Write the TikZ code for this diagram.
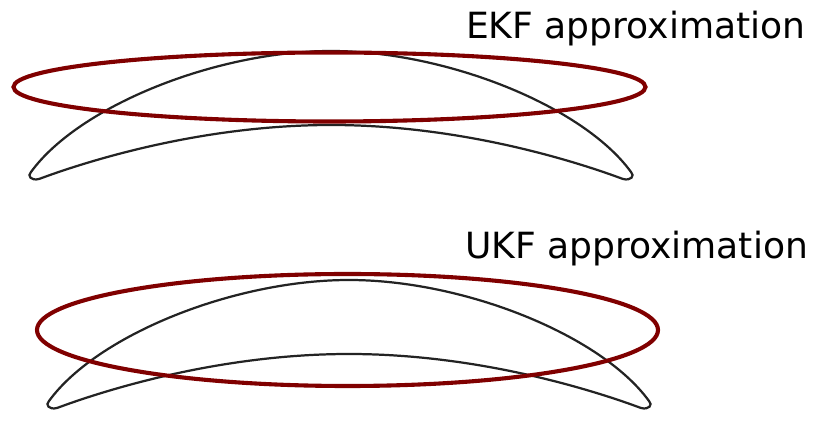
\documentclass[tikz,border=0pt]{standalone}
\usepackage{fontspec}
\setmainfont{DejaVu Sans}
\usepackage{tikz}
\usetikzlibrary{calc}
\definecolor{fitred}{RGB}{128,0,0}
\definecolor{curvegray}{RGB}{35,35,35}
\tikzset{
every picture/.style={line width=0.8pt, >=stealth},
%%%%%%%%%%  Line styles
banana/.style={line width=1.9pt, draw=curvegray},
approx/.style={line width=3.5pt, draw=fitred},
%%%%%%%%%%  Label style
caption/.style={inner sep=0pt, outer sep=0pt, anchor=base west,
                font=\fontsize{30.8}{36}\selectfont}
}

\begin{document}
\begin{tikzpicture}[x=0.3mm, y=-0.3mm]
\useasboundingbox (0,0) rectangle (813,422);
%%%%%%%%%%%%%%%%%%%%%%%%%%%%%%%%%%%%%%%%%%%%%%
%% EKF
\begin{scope}[shift={(331,178)}]
\node[caption] (ekf) at (135,-139) {EKF approximation};
%% true distribution
\draw[banana] (-300,-6)
	.. controls (-252,-72) and (-115,-127) .. (0,-127)
	.. controls (115,-127) and (252,-72) .. (300,-6)
	.. controls (304,-2) and (300,3) .. (292,1)
	.. controls (230,-22) and (120,-53) .. (0,-53)
	.. controls (-120,-53) and (-230,-22) .. (-292,1)
	.. controls (-300,3) and (-304,-2) .. cycle;
%% gaussian fit
\draw[approx] (-1.5,-91) ellipse (316 and 34.5);
\end{scope}
%%%%%%%%%%%%%%%%%%%%%%%%%%%%%%%%%%%%%%%%%%%%%%
%% UKF
\begin{scope}[shift={(349,407)}]
\node[caption] (ukf) at (116,-148) {UKF approximation};
%% true distribution
\draw[banana] (-300,-6)
	.. controls (-252,-72) and (-115,-127) .. (0,-127)
	.. controls (115,-127) and (252,-72) .. (300,-6)
	.. controls (304,-2) and (300,3) .. (292,1)
	.. controls (230,-22) and (120,-53) .. (0,-53)
	.. controls (-120,-53) and (-230,-22) .. (-292,1)
	.. controls (-300,3) and (-304,-2) .. cycle;
%% gaussian fit
\draw[approx] (-1.5,-77) ellipse (310.5 and 56);
\end{scope}
\end{tikzpicture}
\end{document}
